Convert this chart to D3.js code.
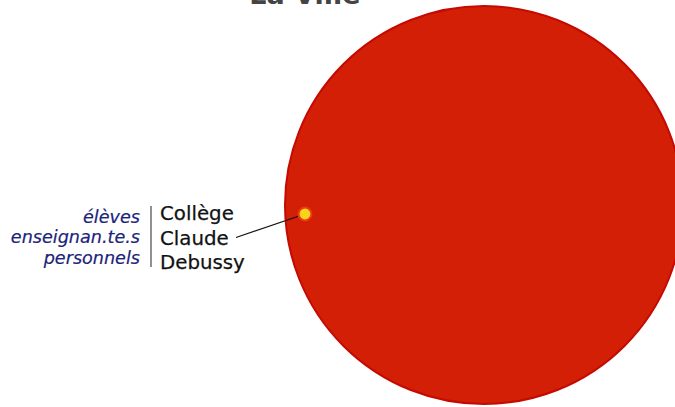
<!DOCTYPE html>
<html><head><meta charset="utf-8">
<script src="https://cdn.jsdelivr.net/npm/d3@7"></script>
<style>html,body{margin:0;padding:0;background:#fff;overflow:hidden}</style>
</head><body>
<svg id="chart" width="675" height="407"></svg>
<script>
const title = "La Ville";
const names = ["La Ville", "Collège Claude Debussy"];
const sizes = [110000, 115];
const schoolLines = ["Collège", "Claude", "Debussy"];
const roleLines = ["élèves", "enseignan.te.s", "personnels"];

const svg = d3.select("#chart");
const r = d3.scaleSqrt().domain([0, sizes[0]]).range([0, 199]);

const bigR = r(sizes[0]);
const cx = 285 + bigR, cy = 205;

svg.append("text").attr("x", 305).attr("y", 4).attr("text-anchor", "middle")
  .attr("font-family", "DejaVu Sans, Verdana, sans-serif").attr("font-weight", "bold")
  .attr("font-size", 27).attr("fill", "#444").text(title);

svg.append("circle").attr("cx", cx).attr("cy", cy).attr("r", bigR)
  .attr("fill", "#d21f06").attr("stroke", "#c40a02").attr("stroke-width", 2);

const sx = 305, sy = 214;
svg.append("line").attr("x1", 236).attr("y1", 237.5).attr("x2", sx).attr("y2", sy)
  .attr("stroke", "#111").attr("stroke-width", 1.2);

svg.append("circle").attr("cx", sx).attr("cy", sy).attr("r", r(sizes[1]))
  .attr("fill", "#f8d41c").attr("stroke", "#ec3a12").attr("stroke-width", 2);

svg.append("line").attr("x1", 151).attr("x2", 151).attr("y1", 206).attr("y2", 267)
  .attr("stroke", "#555").attr("stroke-width", 1.3);

svg.selectAll("text.school").data(schoolLines).join("text").attr("class", "school")
  .attr("x", 160).attr("y", (d, i) => 220 + i * 24.5)
  .attr("font-family", "DejaVu Sans, Verdana, sans-serif").attr("font-size", 19.8)
  .attr("fill", "#111").attr("stroke", "#111").attr("stroke-width", 0.25).text(d => d);

svg.selectAll("text.role").data(roleLines).join("text").attr("class", "role")
  .attr("x", 140).attr("y", (d, i) => 222.5 + i * 20.7).attr("text-anchor", "end")
  .attr("font-family", "DejaVu Sans, Verdana, sans-serif").attr("font-style", "italic")
  .attr("font-size", 17.6).attr("fill", "#1b237a").attr("stroke", "#1b237a").attr("stroke-width", 0.2).text(d => d);
</script>
</body></html>
